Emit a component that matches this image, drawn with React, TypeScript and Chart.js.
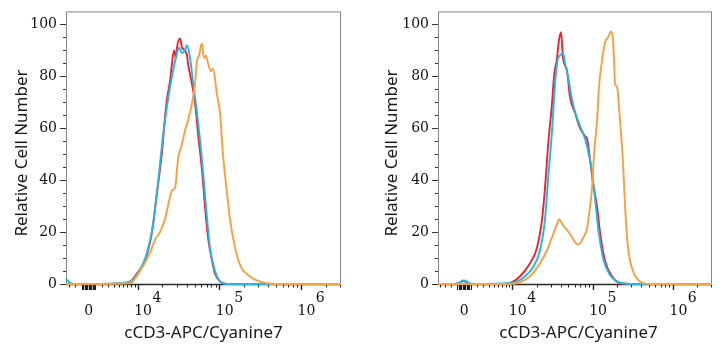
import React, { useEffect, useRef } from 'react';
import { Chart, registerables } from 'chart.js';

Chart.register(...registerables);

type P = [number, number];

// x values are positions on the biexponential display axis, in decades
// (4 = 10^4, 5 = 10^5, 6 = 10^6; ZERO_POS is where 0 sits). y = relative cell number.
const ZERO_POS = 3.4;
const X_TITLE = 'cCD3-APC/Cyanine7';
const Y_TITLE = 'Relative Cell Number';
const Y_MAJOR = [0, 20, 40, 60, 80, 100];
const X_MAJOR_POS = [ZERO_POS, 4, 5, 6];
const X_TICK_BASE = ['0', '10', '10', '10'];
const X_TICK_EXP = ['', '4', '5', '6'];
const LIN_MINOR = [1000, 2000, 3000, 4000, 5000, 6000, 7000, 8000, 9000];
const NEAR_ZERO = [200, 400, 600, 800];

const leftRed: P[] = [
  [3.122, 0], [3.54, 0], [3.783, 0.2], [3.906, 0.8], [3.991, 4], [4.089, 9], [4.175, 20], [4.236, 35],
  [4.298, 51], [4.334, 64], [4.358, 71], [4.395, 78], [4.42, 85], [4.445, 90], [4.469, 87], [4.481, 91],
  [4.518, 94.6], [4.543, 91], [4.579, 90], [4.604, 88], [4.616, 85], [4.665, 77], [4.702, 70], [4.739, 58],
  [4.787, 44], [4.824, 30], [4.861, 18], [4.91, 9], [4.947, 4], [5.008, 1], [5.094, 0], [6.49, 0],
];
const leftCyan: P[] = [
  [3.122, 2], [3.171, 0.5], [3.208, 0], [3.54, 0], [3.783, 0.3], [3.906, 1], [3.991, 3.5], [4.114, 12],
  [4.187, 23], [4.249, 39], [4.31, 57], [4.371, 71], [4.432, 82], [4.481, 89], [4.506, 91], [4.543, 89],
  [4.579, 90], [4.604, 92], [4.641, 87], [4.677, 78], [4.726, 66], [4.787, 48], [4.836, 30], [4.885, 14],
  [4.947, 5], [5.008, 1], [5.094, 0], [6.49, 0],
];
const leftOrange: P[] = [
  [3.122, 0], [3.906, 0.3], [4.028, 5], [4.151, 12], [4.212, 17], [4.273, 20], [4.334, 25], [4.371, 30],
  [4.42, 36], [4.457, 37], [4.494, 48], [4.543, 54], [4.579, 59], [4.616, 63], [4.665, 69.6], [4.702, 77],
  [4.726, 86], [4.751, 88], [4.787, 92.7], [4.812, 87], [4.836, 88], [4.861, 85], [4.898, 82], [4.922, 83],
  [4.971, 73], [5.008, 66], [5.044, 50], [5.094, 35], [5.13, 25], [5.192, 14], [5.265, 6.5], [5.351, 3.5],
  [5.45, 1.5], [5.584, 0.3], [5.706, 0], [6.49, 0],
];

const rightRed: P[] = [
  [3.075, 0], [3.287, 0], [3.349, 0.5], [3.386, 1.2], [3.412, 1], [3.474, 0], [3.847, 0], [3.971, 0.4],
  [4.096, 3], [4.22, 8], [4.307, 14], [4.37, 25], [4.407, 37], [4.444, 53], [4.494, 69.6], [4.519, 80],
  [4.556, 87], [4.581, 94], [4.606, 97], [4.631, 87], [4.681, 82], [4.718, 72], [4.78, 66], [4.843, 60],
  [4.905, 57], [4.93, 56], [4.967, 48], [5.004, 39], [5.054, 30], [5.091, 20], [5.154, 9], [5.241, 3],
  [5.34, 0.3], [5.465, 0], [6.485, 0],
];
const rightCyan: P[] = [
  [3.075, 0], [3.287, 0], [3.349, 0.6], [3.386, 1.4], [3.412, 1.3], [3.474, 0.2], [3.536, 0], [3.971, 0.3],
  [4.133, 2.3], [4.258, 6.5], [4.345, 13], [4.407, 25], [4.444, 40], [4.494, 59], [4.531, 77], [4.569, 87],
  [4.594, 88], [4.631, 89], [4.656, 85], [4.693, 80], [4.743, 71], [4.793, 65], [4.855, 60], [4.905, 56],
  [4.942, 51.5], [4.992, 43], [5.029, 33], [5.067, 22], [5.129, 10], [5.216, 3.5], [5.303, 1], [5.465, 0],
  [6.485, 0],
];
const rightOrange: P[] = [
  [3.075, 0], [3.971, 0], [4.22, 3], [4.345, 8], [4.432, 13], [4.494, 18], [4.556, 23], [4.581, 25],
  [4.631, 22.7], [4.681, 20.8], [4.743, 18], [4.793, 15.6], [4.83, 15.3], [4.88, 17.7], [4.93, 21.5],
  [4.955, 27], [4.992, 37], [5.017, 50], [5.054, 63], [5.079, 76], [5.116, 86], [5.154, 93], [5.191, 95],
  [5.228, 97.3], [5.253, 94], [5.266, 86], [5.278, 77], [5.303, 76], [5.34, 63], [5.378, 46.5], [5.403, 30],
  [5.44, 14], [5.502, 5], [5.589, 1], [5.714, 0], [6.485, 0],
];

const COLORS = { red: '#ee2229', cyan: '#1fb6e8', orange: '#f6a03e' };

interface PanelCfg {
  left: number;
  width: number;
  yAxisWidth: number;
  padRight: number;
  xMin: number;
  xMax: number;
  yTitleX: number;
  titleX: number;
  red: P[];
  cyan: P[];
  orange: P[];
}

const PANELS: PanelCfg[] = [
  { left: 0, width: 362, yAxisWidth: 66, padRight: 21, xMin: 3.122, xMax: 6.49, yTitleX: 27, titleX: 203.5, red: leftRed, cyan: leftCyan, orange: leftOrange },
  { left: 362, width: 363, yAxisWidth: 76, padRight: 13, xMin: 3.075, xMax: 6.485, yTitleX: 35, titleX: 216.5, red: rightRed, cyan: rightCyan, orange: rightOrange },
];

function linPos(v: number) {
  return ZERO_POS + ((4 - ZERO_POS) * Math.asinh(v / 5000)) / Math.asinh(2);
}

const flowAxes = {
  id: 'flowAxes',
  beforeDatasetsDraw(chart: any, _args: any, opts: any) {
    const { ctx, chartArea, scales } = chart;
    const { left, right, top, bottom } = chartArea;
    const x = scales.x;
    const y = scales.y;
    ctx.save();
    // frame
    ctx.strokeStyle = '#858585';
    ctx.lineWidth = 1;
    ctx.beginPath();
    ctx.moveTo(left + 0.5, bottom);
    ctx.lineTo(left + 0.5, top + 0.5);
    ctx.lineTo(right - 0.5, top + 0.5);
    ctx.lineTo(right - 0.5, bottom);
    ctx.stroke();
    ctx.strokeStyle = '#2a2a2a';
    ctx.lineWidth = 1.4;
    ctx.beginPath();
    ctx.moveTo(left, bottom + 0.5);
    ctx.lineTo(right, bottom + 0.5);
    ctx.stroke();

    // y tick marks
    ctx.strokeStyle = '#333';
    ctx.lineWidth = 1;
    for (let v = 0; v <= 100; v += 5) {
      const py = Math.round(y.getPixelForValue(v)) + 0.5;
      const len = v % 20 === 0 ? 6 : 3;
      ctx.beginPath();
      ctx.moveTo(left - len, py);
      ctx.lineTo(left, py);
      ctx.stroke();
    }

    // x tick marks
    const ticks: { pos: number; len: number; w: number }[] = [];
    X_MAJOR_POS.forEach((p) => ticks.push({ pos: p, len: 6, w: 1.4 }));
    for (const d of [4, 5, 6]) for (let k = 2; k <= 9; k++) ticks.push({ pos: d + Math.log10(k), len: 3.5, w: 1 });
    for (const v of LIN_MINOR) {
      const l = v === 1000 ? 6 : 3.5;
      ticks.push({ pos: linPos(v), len: l, w: 1 });
      ticks.push({ pos: linPos(-v), len: l, w: 1 });
    }
    for (const v of NEAR_ZERO) {
      ticks.push({ pos: linPos(v), len: 6, w: 1.3 });
      ticks.push({ pos: linPos(-v), len: 6, w: 1.3 });
    }
    ctx.strokeStyle = '#222';
    for (const t of ticks) {
      if (t.pos < x.min || t.pos > x.max) continue;
      const px = Math.round(x.getPixelForValue(t.pos)) + 0.5;
      ctx.lineWidth = t.w;
      ctx.beginPath();
      ctx.moveTo(px, bottom);
      ctx.lineTo(px, bottom + t.len);
      ctx.stroke();
    }

    // x tick labels (10 with raised exponent)
    ctx.fillStyle = '#111';
    ctx.font = '14px "DejaVu Serif", serif';
    ctx.textBaseline = 'alphabetic';
    X_MAJOR_POS.forEach((p, i) => {
      const px = x.getPixelForValue(p);
      if (!X_TICK_EXP[i]) {
        ctx.textAlign = 'center';
        ctx.fillText(X_TICK_BASE[i], px, 315);
      } else {
        ctx.textAlign = 'left';
        const bx = px - 3.5;
        ctx.fillText(X_TICK_BASE[i], bx, 315);
        const w = ctx.measureText(X_TICK_BASE[i]).width;
        ctx.fillText(X_TICK_EXP[i], bx + w + 0.5, 302);
      }
    });

    // axis titles
    ctx.fillStyle = '#1a1a1a';
    ctx.font = '17px "Noto Sans", sans-serif';
    ctx.textAlign = 'center';
    ctx.fillText(X_TITLE, opts.titleX, 338);
    ctx.save();
    ctx.translate(opts.yTitleX, 153);
    ctx.rotate(-Math.PI / 2);
    ctx.fillText(Y_TITLE, 0, 0);
    ctx.restore();

    ctx.restore();
  },
};

function Panel({ cfg }: { cfg: PanelCfg }) {
  const ref = useRef<HTMLCanvasElement>(null);
  useEffect(() => {
    const mk = (pts: P[], color: string, label: string) => ({
      label,
      data: pts.map(([xv, yv]) => ({ x: xv, y: yv })),
      borderColor: color,
      backgroundColor: color,
      borderWidth: 1.9,
      pointRadius: 0,
      fill: false,
      cubicInterpolationMode: 'monotone' as const,
      clip: false as const,
    });
    const chart = new Chart(ref.current as HTMLCanvasElement, {
      type: 'line',
      data: {
        datasets: [
          mk(cfg.orange, COLORS.orange, 'orange'),
          mk(cfg.cyan, COLORS.cyan, 'cyan'),
          mk(cfg.red, COLORS.red, 'red'),
        ],
      },
      options: {
        responsive: false,
        animation: false,
        devicePixelRatio: 1,
        layout: { padding: { left: 0, top: 11, right: cfg.padRight, bottom: 0 } },
        plugins: {
          legend: { display: false },
          tooltip: { enabled: false },
          flowAxes: { titleX: cfg.titleX, yTitleX: cfg.yTitleX },
        } as any,
        scales: {
          x: {
            type: 'linear',
            min: cfg.xMin,
            max: cfg.xMax,
            ticks: { display: false },
            grid: { display: false },
            border: { display: false },
            afterFit: (s: any) => {
              s.height = 66;
            },
          },
          y: {
            type: 'linear',
            min: 0,
            max: 105,
            afterBuildTicks: (s: any) => {
              s.ticks = Y_MAJOR.map((v) => ({ value: v }));
            },
            afterFit: (s: any) => {
              s.width = cfg.yAxisWidth;
            },
            ticks: {
              color: '#111',
              padding: 3,
              font: { family: '"DejaVu Serif", serif', size: 14 },
            },
            grid: {
              display: true,
              drawOnChartArea: false,
              drawTicks: true,
              tickLength: 6,
              tickColor: 'rgba(0,0,0,0)',
            },
            border: { display: false },
          },
        } as any,
      },
      plugins: [flowAxes],
    });
    return () => chart.destroy();
  }, [cfg]);
  return (
    <div style={{ position: 'absolute', left: cfg.left, top: 0, width: cfg.width, height: 350 }}>
      <canvas ref={ref} width={cfg.width} height={350} style={{ display: 'block' }} />
    </div>
  );
}

export default function App() {
  return (
    <div style={{ position: 'fixed', left: 0, top: 0, width: 725, height: 350, background: '#fff' }}>
      {PANELS.map((p, i) => (
        <Panel key={i} cfg={p} />
      ))}
    </div>
  );
}
